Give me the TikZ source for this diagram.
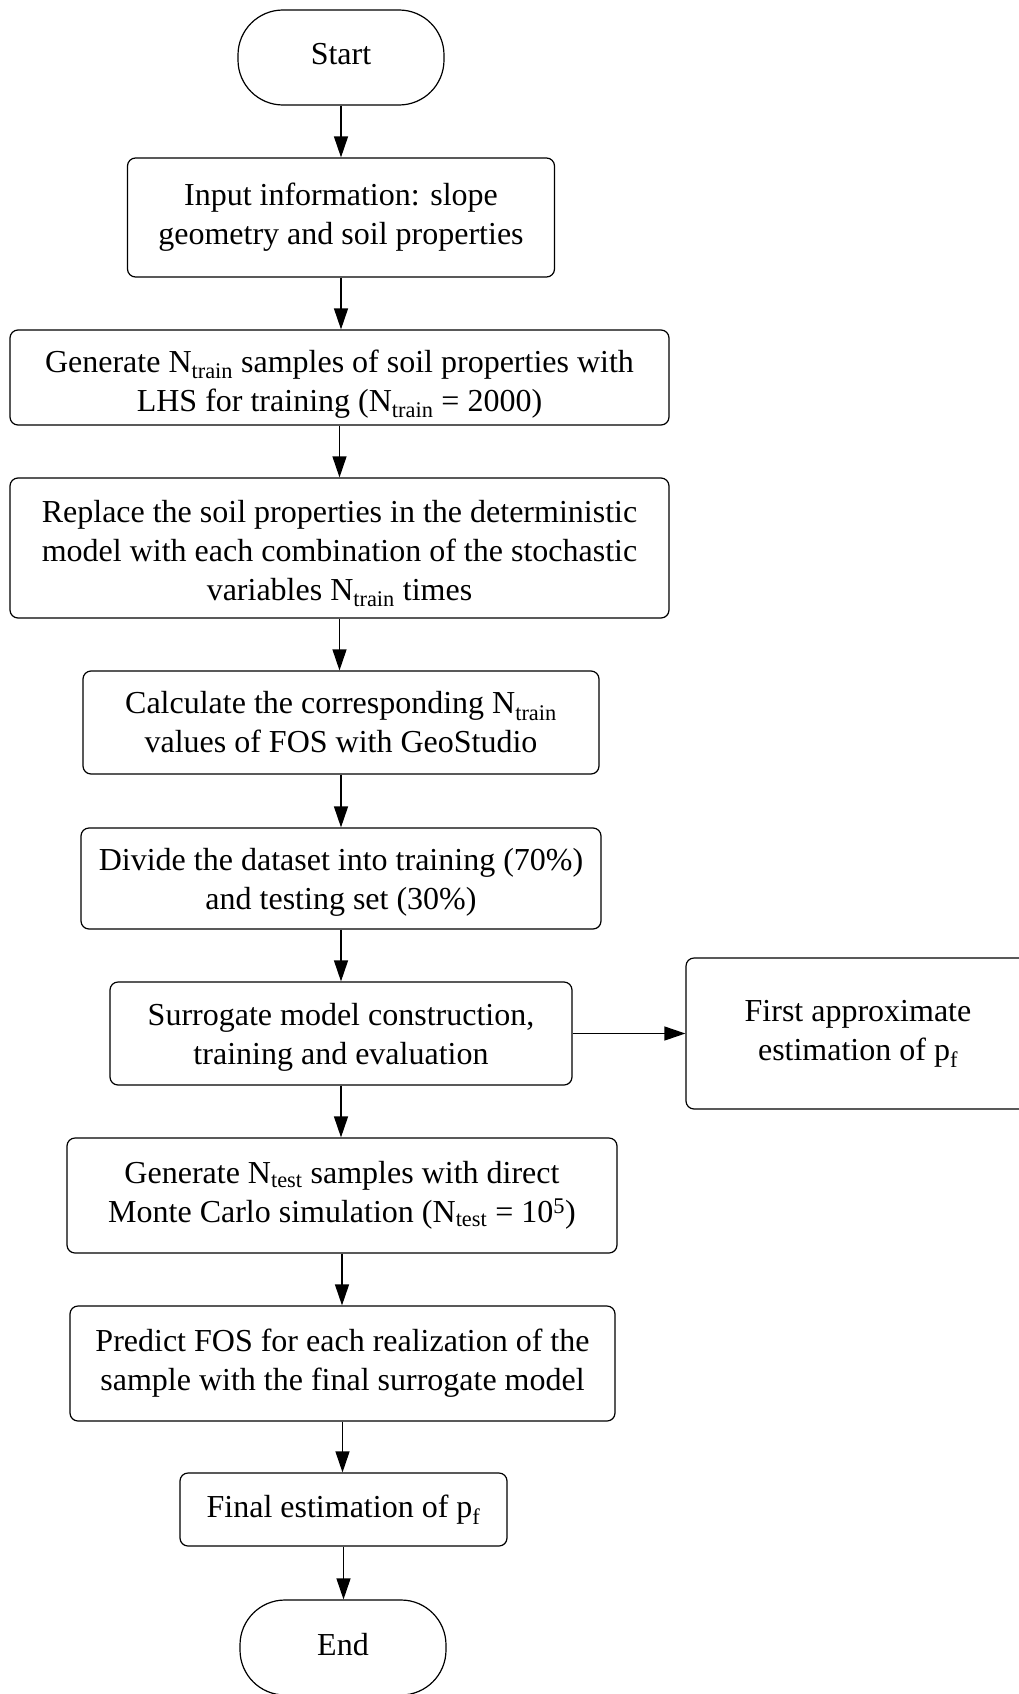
\documentclass[tikz,border=0pt]{standalone}
\usepackage{fontspec}
\setmainfont{Liberation Serif}
\usetikzlibrary{arrows.meta}
\newcommand\mystrut[1]{\rule{0pt}{#1}}
\newcommand\mydepth[1]{\rule[-#1]{0pt}{0pt}}
\begin{document}
\begin{tikzpicture}[x=1pt,y=-1pt,
  box/.style={draw, line width=1.2pt, rounded corners=8pt, align=center, inner sep=0pt, font=\fontsize{32}{39}\selectfont},
  term/.style={box, rounded corners=45pt, minimum width=206pt, minimum height=95pt},
  arr/.style={line width=1.2pt, -{Triangle[length=21pt,width=14pt]}}]
\useasboundingbox (0,0) rectangle (1019,1694);
\node[term] (start) at (341,57.5) {Start\mydepth{6.5pt}};
\node[box, minimum width=427pt, minimum height=119pt] (input) at (341,217.5) {Input information: slope\\geometry and soil properties};
\node[box, minimum width=659pt, minimum height=95pt] (gen) at (339.5,377.5) {\mystrut{35pt}Generate N\textsubscript{train} samples of soil properties with\\LHS for training (N\textsubscript{train} = 2000)};
\node[box, minimum width=659pt, minimum height=140pt] (repl) at (339.5,548) {\mystrut{33pt}Replace the soil properties in the deterministic\\model with each combination of the stochastic\\variables N\textsubscript{train} times};
\node[box, minimum width=516pt, minimum height=103pt] (calc) at (341,722.5) {Calculate the corresponding N\textsubscript{train}\\values of FOS with GeoStudio};
\node[box, minimum width=520pt, minimum height=101pt] (div) at (341,878.5) {\mystrut{29pt}Divide the dataset into training (70\%)\\and testing set (30\%)};
\node[box, minimum width=462pt, minimum height=103pt] (sur) at (341,1033.5) {\mystrut{29pt}Surrogate model construction,\\training and evaluation};
\node[box, minimum width=344pt, minimum height=151pt] (first) at (858,1033.5) {First approximate\\estimation of p\textsubscript{f}};
\node[box, minimum width=550pt, minimum height=115pt] (ntest) at (342,1195.5) {Generate N\textsubscript{test} samples with direct\\Monte Carlo simulation (N\textsubscript{test} = 10\textsuperscript{5})};
\node[box, minimum width=545pt, minimum height=115pt] (pred) at (342.5,1363.5) {Predict FOS for each realization of the\\sample with the final surrogate model};
\node[box, minimum width=327pt, minimum height=73pt] (final) at (343.5,1509.5) {Final estimation of p\textsubscript{f}};
\node[term] (end) at (343,1647.5) {End\mydepth{6.5pt}};
\draw[arr] (start.south) -- (start.south |- input.north);
\draw[arr] (input.south) -- (input.south |- gen.north);
\draw[arr] (gen.south) -- (gen.south |- repl.north);
\draw[arr] (repl.south) -- (repl.south |- calc.north);
\draw[arr] (calc.south) -- (calc.south |- div.north);
\draw[arr] (div.south) -- (div.south |- sur.north);
\draw[arr] (sur.east) -- (first.west);
\draw[arr] (sur.south) -- (sur.south |- ntest.north);
\draw[arr] (ntest.south) -- (ntest.south |- pred.north);
\draw[arr] (pred.south) -- (pred.south |- final.north);
\draw[arr] (final.south) -- (final.south |- end.north);
\end{tikzpicture}
\end{document}
